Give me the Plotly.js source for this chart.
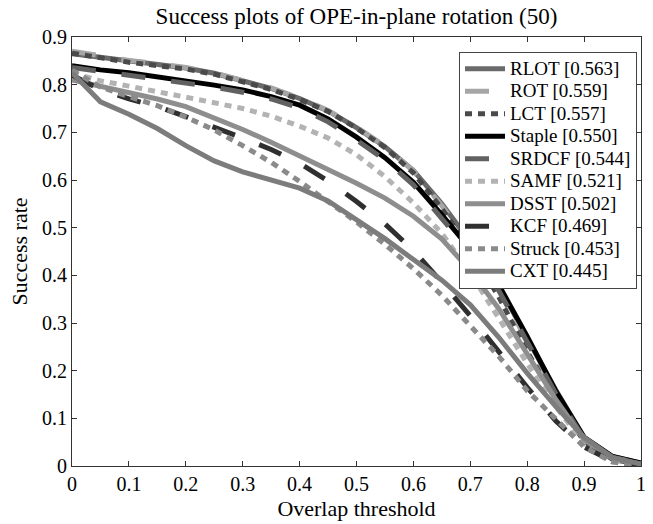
<!DOCTYPE html>
<html>
<head>
<meta charset="utf-8">
<script src="https://cdn.plot.ly/plotly-3.0.1.min.js"></script>
<style>html,body{margin:0;padding:0;background:#fff;}#chart{width:653px;height:524px;}</style>
</head>
<body>
<div id="chart"></div>
<script>
const thresholds = [0, 0.05, 0.1, 0.15, 0.2, 0.25, 0.3, 0.35, 0.4, 0.45, 0.5, 0.55, 0.6, 0.65, 0.7, 0.75, 0.8, 0.85, 0.9, 0.95, 1];
const trackerNames = ["RLOT [0.563]", "ROT [0.559]", "LCT [0.557]", "Staple [0.550]", "SRDCF [0.544]", "SAMF [0.521]", "DSST [0.502]", "KCF [0.469]", "Struck [0.453]", "CXT [0.445]"];
const rlot   = [0.865, 0.857, 0.849, 0.843, 0.835, 0.824, 0.809, 0.792, 0.771, 0.745, 0.710, 0.670, 0.620, 0.550, 0.470, 0.378, 0.268, 0.160, 0.060, 0.020, 0.006];
const rot    = [0.870, 0.860, 0.851, 0.844, 0.836, 0.825, 0.810, 0.793, 0.772, 0.746, 0.711, 0.671, 0.619, 0.546, 0.465, 0.372, 0.262, 0.155, 0.058, 0.018, 0.005];
const lct    = [0.866, 0.856, 0.847, 0.840, 0.833, 0.822, 0.807, 0.790, 0.769, 0.744, 0.709, 0.668, 0.615, 0.540, 0.452, 0.355, 0.240, 0.140, 0.052, 0.014, 0.003];
const staple = [0.840, 0.831, 0.825, 0.817, 0.808, 0.799, 0.789, 0.775, 0.757, 0.728, 0.690, 0.647, 0.595, 0.527, 0.455, 0.380, 0.272, 0.158, 0.060, 0.020, 0.006];
const srdcf  = [0.836, 0.828, 0.821, 0.813, 0.804, 0.795, 0.784, 0.770, 0.751, 0.722, 0.684, 0.642, 0.590, 0.520, 0.448, 0.368, 0.262, 0.152, 0.057, 0.018, 0.005];
const samf   = [0.825, 0.808, 0.797, 0.786, 0.775, 0.762, 0.750, 0.734, 0.713, 0.688, 0.653, 0.607, 0.552, 0.488, 0.405, 0.310, 0.215, 0.125, 0.047, 0.012, 0.002];
const dsst   = [0.810, 0.797, 0.785, 0.770, 0.754, 0.731, 0.706, 0.679, 0.651, 0.622, 0.593, 0.562, 0.524, 0.476, 0.410, 0.330, 0.235, 0.140, 0.055, 0.016, 0.004];
const kcf    = [0.820, 0.790, 0.770, 0.754, 0.733, 0.711, 0.688, 0.664, 0.635, 0.598, 0.555, 0.508, 0.452, 0.385, 0.315, 0.240, 0.165, 0.095, 0.040, 0.010, 0.001];
const struck = [0.830, 0.795, 0.775, 0.756, 0.732, 0.705, 0.672, 0.637, 0.597, 0.556, 0.512, 0.465, 0.414, 0.358, 0.295, 0.230, 0.158, 0.098, 0.040, 0.008, 0.001];
const cxt    = [0.825, 0.764, 0.738, 0.708, 0.672, 0.640, 0.617, 0.600, 0.583, 0.556, 0.518, 0.477, 0.433, 0.390, 0.338, 0.270, 0.195, 0.125, 0.060, 0.018, 0.004];

const seriesValues = [rlot, rot, lct, staple, srdcf, samf, dsst, kcf, struck, cxt];
const styles = [
  {color: "#6a6a6a", dash: "solid"},
  {color: "#a6a6a6", dash: "24px,26px"},
  {color: "#4a4a4a", dash: "7px,6px"},
  {color: "#000000", dash: "solid"},
  {color: "#616161", dash: "24px,26px"},
  {color: "#b3b3b3", dash: "7px,6px"},
  {color: "#8e8e8e", dash: "solid"},
  {color: "#2f2f2f", dash: "24px,26px"},
  {color: "#8a8a8a", dash: "7px,6px"},
  {color: "#7c7c7c", dash: "solid"}
];

const traces = seriesValues.map((vals, i) => ({
  x: thresholds,
  y: vals,
  name: '<span style="font-size:19px">' + trackerNames[i] + '</span>',
  type: "scatter",
  mode: "lines",
  line: {color: styles[i].color, width: 5, dash: styles[i].dash}
}));

const fontFam = "Liberation Serif, Times New Roman, serif";
const layout = {
  width: 653, height: 524,
  margin: {l: 72, r: 12, t: 37, b: 58},
  paper_bgcolor: "#fff", plot_bgcolor: "#fff",
  font: {family: fontFam, size: 20, color: "#000"},
  title: {text: "Success plots of OPE-in-plane rotation (50)", font: {family: fontFam, size: 23, color: "#000"},
          x: 0.5, xref: "paper", y: 1 - 16/524, yref: "container", yanchor: "middle"},
  xaxis: {range: [0, 1], dtick: 0.1, tick0: 0, ticks: "inside", ticklen: 5, tickcolor: "#333",
          showline: true, linecolor: "#333", linewidth: 1, mirror: "ticks", showgrid: false, zeroline: false,
          tickfont: {family: fontFam, size: 20, color: "#000"},
          title: {text: "Overlap threshold", font: {family: fontFam, size: 22, color: "#000"}, standoff: 6}},
  yaxis: {range: [0, 0.9], dtick: 0.1, tick0: 0, ticks: "inside", ticklen: 5, tickcolor: "#333",
          showline: true, linecolor: "#333", linewidth: 1, mirror: "ticks", showgrid: false, zeroline: false,
          tickfont: {family: fontFam, size: 20, color: "#000"},
          title: {text: "Success rate", font: {family: fontFam, size: 22, color: "#000"}, standoff: 8}},
  legend: {x: 0.993, xanchor: "right", y: 0.966, yanchor: "top", bgcolor: "#fff",
           bordercolor: "#444", borderwidth: 1, font: {family: fontFam, size: 15, color: "#000"},
           tracegroupgap: 0, itemwidth: 40},
  showlegend: true
};

Plotly.newPlot("chart", traces, layout, {staticPlot: true, displayModeBar: false});
</script>
</body>
</html>
